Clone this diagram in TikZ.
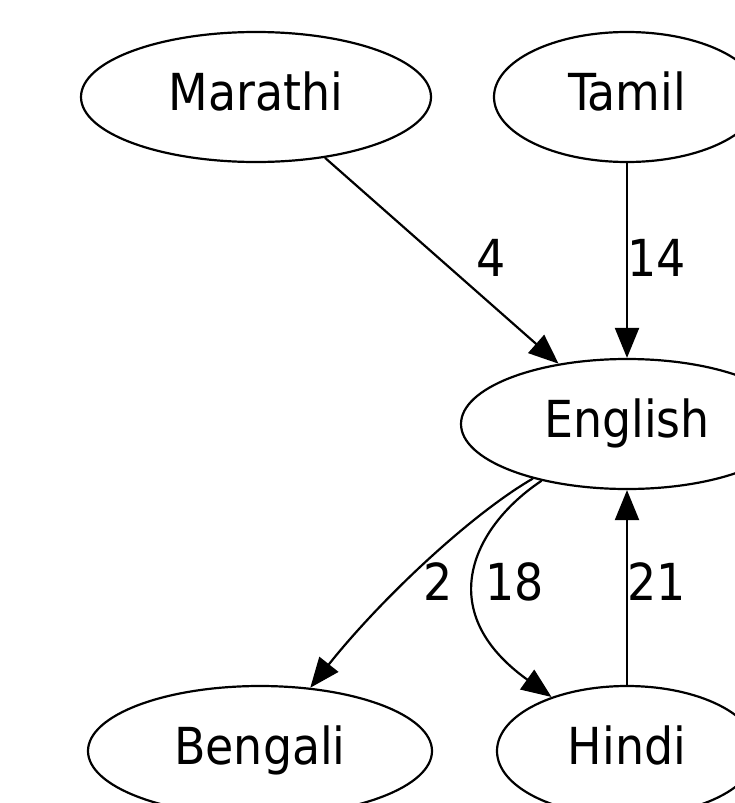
\documentclass[tikz,border=0pt]{standalone}
\usepackage{fontspec}
\setmainfont{DejaVu Sans Condensed}
\usetikzlibrary{shapes.geometric,arrows.meta}
\begin{document}
\begin{tikzpicture}[x=1pt,y=1pt,
  lang/.style={ellipse,draw,line width=2.2pt,inner sep=0pt,minimum height=130pt,text height=39pt,text depth=12pt,font=\fontsize{51}{55}\selectfont},
  edge/.style={draw,line width=2.2pt,-{Triangle[length=30pt,width=24pt]}},
  elabel/.style={font=\fontsize{51}{55}\selectfont,inner sep=0pt}]
\useasboundingbox (0,0) rectangle (735,-803);
\clip (0,0) rectangle (735,-803);
\node[lang,minimum width=350pt] (Marathi) at (256,-97) {Marathi};
\node[lang,minimum width=266pt] (Tamil) at (627,-97) {Tamil};
\node[lang,minimum width=332pt] (English) at (627,-424) {English};
\node[lang,minimum width=344pt] (Bengali) at (260,-751) {Bengali};
\node[lang,minimum width=260pt] (Hindi) at (627,-751) {Hindi};
\draw[edge] (Marathi) -- (English);
\draw[edge] (Tamil) -- (English);
\draw[edge] (English) .. controls (470,-515) and (380,-600) .. (Bengali);
\draw[edge] (English) .. controls (475,-525) and (430,-610) .. (Hindi);
\draw[edge] (Hindi) -- (English);
\node[elabel] (l4) at (491,-258) {4};
\node[elabel] (l14) at (657,-258) {14};
\node[elabel] (l2) at (438,-582) {2};
\node[elabel] (l18) at (515,-582) {18};
\node[elabel] (l21) at (657,-582) {21};
\end{tikzpicture}
\end{document}
